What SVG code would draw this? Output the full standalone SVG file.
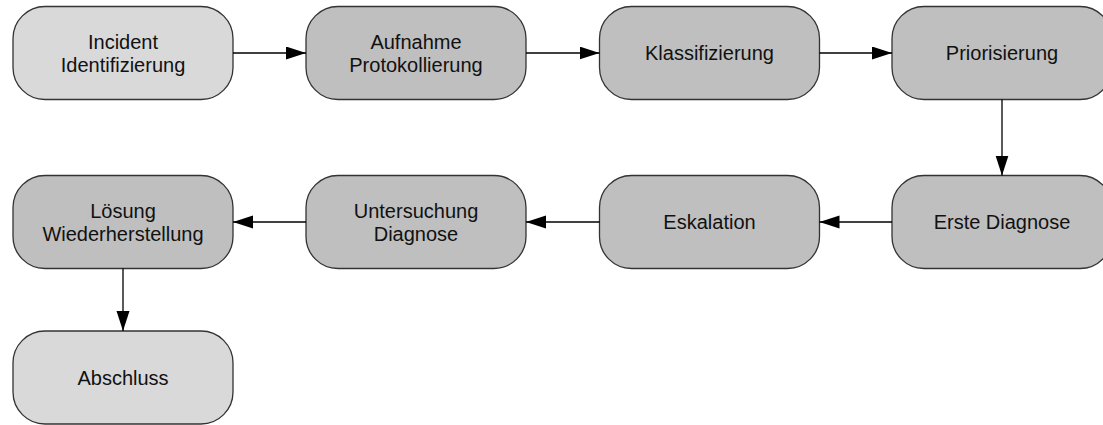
<svg xmlns="http://www.w3.org/2000/svg" width="1103" height="425" viewBox="0 0 1103 425">
  <style>
    .node rect { stroke: #333333; stroke-width: 1.3; }
    .start rect, .end rect { fill: #d9d9d9; }
    .step rect { fill: #bfbfbf; }
    .node text { font-family: "Liberation Sans", Arial, sans-serif; font-size: 20px; fill: #111111; text-anchor: middle; }
    .edge { stroke: #000000; stroke-width: 1.3; fill: none; marker-end: url(#arrow); }
  </style>
  <defs>
    <marker id="arrow" markerUnits="userSpaceOnUse" markerWidth="21" markerHeight="14" refX="20" refY="6.5" orient="auto">
      <path d="M0,0 L20,6.5 L0,13 z" fill="#000000"/>
    </marker>
  </defs>
  <rect width="1103" height="425" fill="#ffffff"/>

  <!-- row 1 -->
  <g id="incident-identifizierung" class="node start">
    <rect x="13" y="6.5" width="220" height="93" rx="32" ry="32"/>
    <text x="123" y="48.5">Incident</text>
    <text x="123" y="72">Identifizierung</text>
  </g>
  <g id="aufnahme-protokollierung" class="node step">
    <rect x="306" y="6.5" width="220" height="93" rx="32" ry="32"/>
    <text x="416" y="48.5">Aufnahme</text>
    <text x="416" y="72">Protokollierung</text>
  </g>
  <g id="klassifizierung" class="node step">
    <rect x="599.5" y="6.5" width="220" height="93" rx="32" ry="32"/>
    <text x="709.5" y="60">Klassifizierung</text>
  </g>
  <g id="priorisierung" class="node step">
    <rect x="892" y="6.5" width="220" height="93" rx="32" ry="32"/>
    <text x="1002" y="60">Priorisierung</text>
  </g>

  <!-- row 2 -->
  <g id="erste-diagnose" class="node step">
    <rect x="892" y="175.5" width="220" height="93" rx="32" ry="32"/>
    <text x="1002" y="229">Erste Diagnose</text>
  </g>
  <g id="eskalation" class="node step">
    <rect x="599.5" y="175.5" width="220" height="93" rx="32" ry="32"/>
    <text x="709.5" y="229">Eskalation</text>
  </g>
  <g id="untersuchung-diagnose" class="node step">
    <rect x="306" y="175.5" width="220" height="93" rx="32" ry="32"/>
    <text x="416" y="217.5">Untersuchung</text>
    <text x="416" y="241">Diagnose</text>
  </g>
  <g id="loesung-wiederherstellung" class="node step">
    <rect x="13" y="175.5" width="220" height="93" rx="32" ry="32"/>
    <text x="123" y="217.5">Lösung</text>
    <text x="123" y="241">Wiederherstellung</text>
  </g>

  <!-- row 3 -->
  <g id="abschluss" class="node end">
    <rect x="13" y="331" width="220" height="93" rx="32" ry="32"/>
    <text x="123" y="384.5">Abschluss</text>
  </g>

  <!-- connectors -->
  <g id="connectors">
    <line class="edge" x1="233" y1="53" x2="306" y2="53"/>
    <line class="edge" x1="526" y1="53" x2="599.5" y2="53"/>
    <line class="edge" x1="819.5" y1="53" x2="892" y2="53"/>
    <line class="edge" x1="1002" y1="99.5" x2="1002" y2="175.5"/>
    <line class="edge" x1="892" y1="222" x2="819.5" y2="222"/>
    <line class="edge" x1="599.5" y1="222" x2="526" y2="222"/>
    <line class="edge" x1="306" y1="222" x2="233" y2="222"/>
    <line class="edge" x1="123" y1="268.5" x2="123" y2="331"/>
  </g>
</svg>
